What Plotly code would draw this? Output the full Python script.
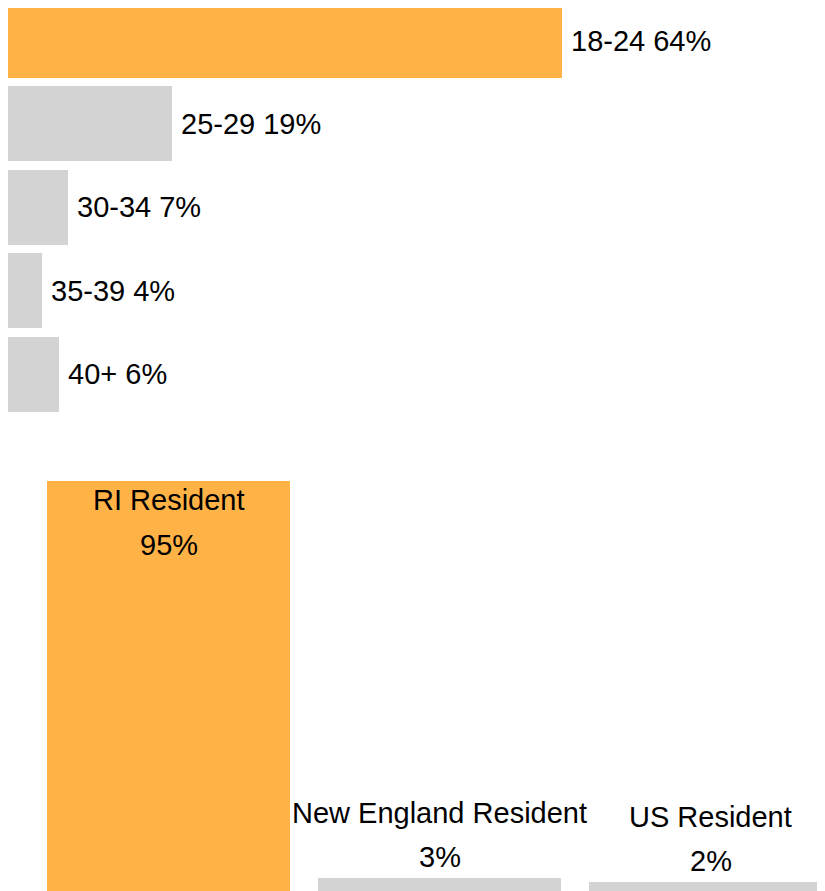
import plotly.graph_objects as go

# Age groups (top chart)
age_groups = ["18-24", "25-29", "30-34", "35-39", "40+"]
age_pct = [64, 19, 7, 4, 6]
age_colors = ["#FFB347", "#D3D3D3", "#D3D3D3", "#D3D3D3", "#D3D3D3"]

# Residency (bottom chart)
residency = ["RI Resident", "New England Resident", "US Resident"]
residency_pct = [95, 3, 2]
residency_colors = ["#FFB347", "#D3D3D3", "#D3D3D3"]

W, H = 825, 891
OFF = 8  # page body margin
FONT = dict(family="Liberation Sans, Arial, sans-serif", size=29, color="#000000")

fig = go.Figure()

fig.add_trace(go.Bar(
    x=age_pct, y=list(range(len(age_groups))), orientation="h",
    marker=dict(color=age_colors, line=dict(width=0)),
    width=0.9, xaxis="x", yaxis="y", hoverinfo="skip", showlegend=False,
))

fig.add_trace(go.Bar(
    x=list(range(len(residency))), y=residency_pct,
    marker=dict(color=residency_colors, line=dict(width=0)),
    width=0.897, xaxis="x2", yaxis="y2", hoverinfo="skip", showlegend=False,
))

annotations = []
for i, (g, p) in enumerate(zip(age_groups, age_pct)):
    annotations.append(dict(
        x=p, y=i, xref="x", yref="y", text=f"{g} {p}%",
        xanchor="left", yanchor="middle", xshift=7, showarrow=False, font=FONT,
    ))

for i, (r, p) in enumerate(zip(residency, residency_pct)):
    if p > 50:
        name_shift, pct_shift = -19, -64
    else:
        name_shift, pct_shift = 65, 21
    annotations.append(dict(
        x=i, y=p, xref="x2", yref="y2", text=r,
        xanchor="center", yanchor="middle", yshift=name_shift, showarrow=False, font=FONT,
    ))
    annotations.append(dict(
        x=i, y=p, xref="x2", yref="y2", text=f"{p}%",
        xanchor="center", yanchor="middle", yshift=pct_shift, showarrow=False, font=FONT,
    ))

# geometry in figure (layout) pixels
top_px = 420
top_pitch = 83.4
first_row_center = 40.5 - OFF
bar_start = 7 - OFF
px_per_pct_h = 8.672
px_per_pct_v = 4.316
plot_bottom = 891 - OFF
bottom_top_px = 452
cat_pitch = 271.0
first_center = 168.5 - OFF

fig.update_layout(
    width=W, height=H,
    margin=dict(l=0, r=0, t=0, b=0),
    paper_bgcolor="white", plot_bgcolor="white",
    xaxis=dict(domain=[0, 1], range=[-bar_start / px_per_pct_h, (W - bar_start) / px_per_pct_h],
               visible=False, fixedrange=True),
    yaxis=dict(domain=[1 - top_px / H, 1],
               range=[(top_px - first_row_center) / top_pitch, -first_row_center / top_pitch],
               visible=False, fixedrange=True),
    xaxis2=dict(domain=[0, 1], anchor="y2",
                range=[-first_center / cat_pitch, (W - first_center) / cat_pitch],
                visible=False, fixedrange=True),
    yaxis2=dict(domain=[(H - plot_bottom) / H, (H - bottom_top_px) / H], anchor="x2",
                range=[0, (plot_bottom - bottom_top_px) / px_per_pct_v],
                visible=False, fixedrange=True),
    annotations=annotations,
    bargap=0,
)

fig.write_html("out.html")
